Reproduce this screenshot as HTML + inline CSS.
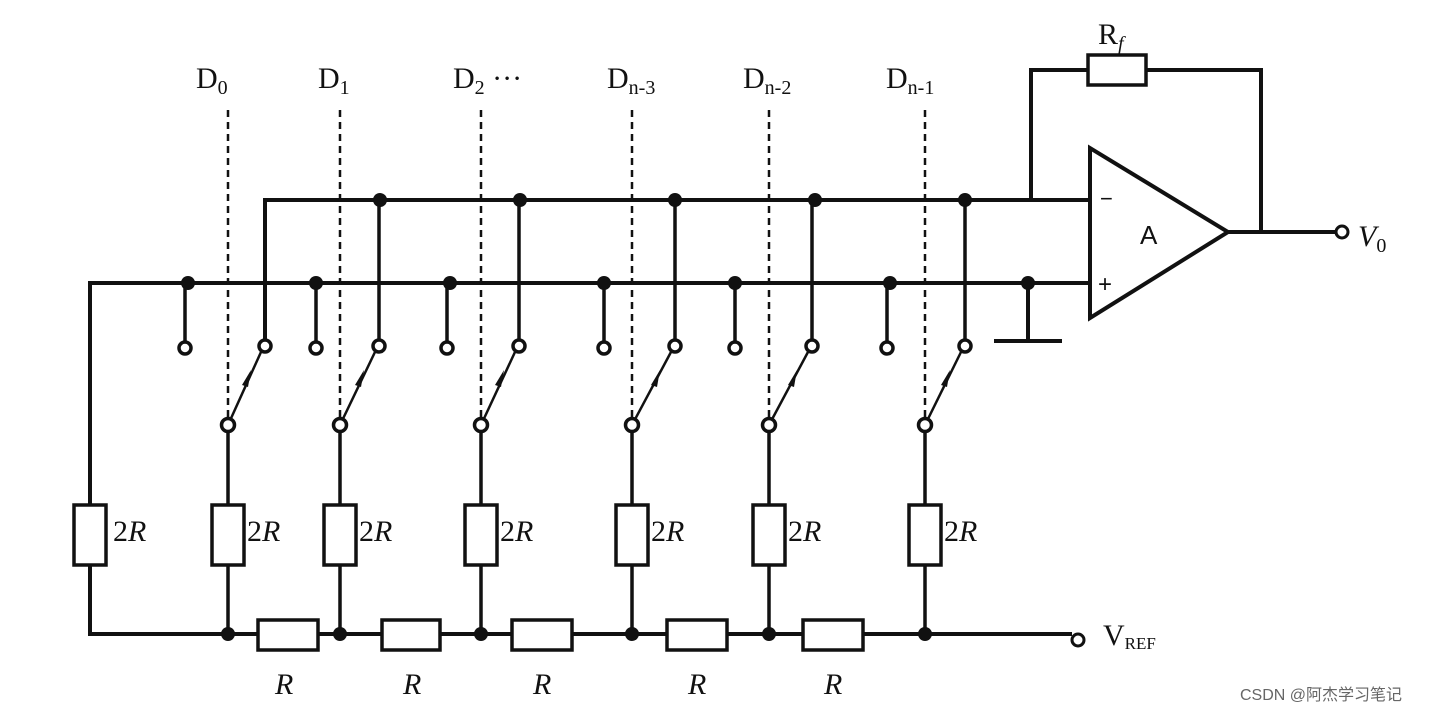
<!DOCTYPE html>
<html><head><style>body{margin:0;background:#fff}svg{display:block}</style></head><body>
<svg width="1445" height="714" viewBox="0 0 1445 714" xmlns="http://www.w3.org/2000/svg" font-family="Liberation Serif, serif">
<g stroke="#111" stroke-width="4" fill="none">
<!-- top bus -->
<polyline points="265,340 265,200 1090,200"/>
<!-- lower bus -->
<polyline points="90,505 90,283 1090,283"/>
<!-- left 2R -->
<rect x="74" y="505" width="32" height="60" stroke-width="3.5"/>
<polyline points="90,565 90,634 1072,634"/>
<!-- ground -->
<line x1="1028" y1="283" x2="1028" y2="341"/>
<line x1="994" y1="341" x2="1062" y2="341"/>
<!-- opamp -->
<polygon points="1090,148 1090,318 1228,232" fill="#fff"/>
<polyline points="1031,200 1031,70 1261,70 1261,232"/>
<line x1="1228" y1="232" x2="1336" y2="232"/>
<rect x="1088" y="55" width="58" height="30" fill="#fff" stroke-width="3.5"/>
<circle cx="1342" cy="232" r="6" stroke-width="3" fill="#fff"/>
<!-- bottom R resistors -->
<g fill="#fff" stroke-width="3.5">
<rect x="258" y="620" width="60" height="30"/>
<rect x="382" y="620" width="58" height="30"/>
<rect x="512" y="620" width="60" height="30"/>
<rect x="667" y="620" width="60" height="30"/>
<rect x="803" y="620" width="60" height="30"/>
</g>
<circle cx="1078" cy="640" r="6" stroke-width="3" fill="#fff"/>
</g>
<line x1="1072" y1="634" x2="1072" y2="640" stroke="#fff" stroke-width="0"/>

<!-- columns -->
<g stroke="#111" stroke-width="3.5" fill="none">
<!-- pivot x, left contact, right contact -->
<!-- col0 -->
<line x1="228" y1="110" x2="228" y2="418" stroke-dasharray="7,5" stroke-width="2.5"/>
<line x1="185" y1="283" x2="185" y2="342"/><circle cx="185" cy="348" r="6" fill="#fff"/>
<circle cx="265" cy="346" r="6" fill="#fff"/>
<line x1="228" y1="425" x2="261" y2="352" stroke-width="2.5"/>
<line x1="228" y1="431" x2="228" y2="505"/><rect x="212" y="505" width="32" height="60" fill="#fff"/>
<line x1="228" y1="565" x2="228" y2="634"/>
<circle cx="228" cy="425" r="6.5" fill="#fff"/>
<!-- col1 -->
<line x1="340" y1="110" x2="340" y2="418" stroke-dasharray="7,5" stroke-width="2.5"/>
<line x1="316" y1="283" x2="316" y2="342"/><circle cx="316" cy="348" r="6" fill="#fff"/>
<line x1="379" y1="200" x2="379" y2="340"/><circle cx="379" cy="346" r="6" fill="#fff"/>
<line x1="340" y1="425" x2="375" y2="352" stroke-width="2.5"/>
<line x1="340" y1="431" x2="340" y2="505"/><rect x="324" y="505" width="32" height="60" fill="#fff"/>
<line x1="340" y1="565" x2="340" y2="634"/>
<circle cx="340" cy="425" r="6.5" fill="#fff"/>
<!-- col2 -->
<line x1="481" y1="110" x2="481" y2="418" stroke-dasharray="7,5" stroke-width="2.5"/>
<line x1="447" y1="283" x2="447" y2="342"/><circle cx="447" cy="348" r="6" fill="#fff"/>
<line x1="519" y1="200" x2="519" y2="340"/><circle cx="519" cy="346" r="6" fill="#fff"/>
<line x1="481" y1="425" x2="515" y2="352" stroke-width="2.5"/>
<line x1="481" y1="431" x2="481" y2="505"/><rect x="465" y="505" width="32" height="60" fill="#fff"/>
<line x1="481" y1="565" x2="481" y2="634"/>
<circle cx="481" cy="425" r="6.5" fill="#fff"/>
<!-- col3 -->
<line x1="632" y1="110" x2="632" y2="418" stroke-dasharray="7,5" stroke-width="2.5"/>
<line x1="604" y1="283" x2="604" y2="342"/><circle cx="604" cy="348" r="6" fill="#fff"/>
<line x1="675" y1="200" x2="675" y2="340"/><circle cx="675" cy="346" r="6" fill="#fff"/>
<line x1="632" y1="425" x2="671" y2="352" stroke-width="2.5"/>
<line x1="632" y1="431" x2="632" y2="505"/><rect x="616" y="505" width="32" height="60" fill="#fff"/>
<line x1="632" y1="565" x2="632" y2="634"/>
<circle cx="632" cy="425" r="6.5" fill="#fff"/>
<!-- col4 -->
<line x1="769" y1="110" x2="769" y2="418" stroke-dasharray="7,5" stroke-width="2.5"/>
<line x1="735" y1="283" x2="735" y2="342"/><circle cx="735" cy="348" r="6" fill="#fff"/>
<line x1="812" y1="200" x2="812" y2="340"/><circle cx="812" cy="346" r="6" fill="#fff"/>
<line x1="769" y1="425" x2="808" y2="352" stroke-width="2.5"/>
<line x1="769" y1="431" x2="769" y2="505"/><rect x="753" y="505" width="32" height="60" fill="#fff"/>
<line x1="769" y1="565" x2="769" y2="634"/>
<circle cx="769" cy="425" r="6.5" fill="#fff"/>
<!-- col5 -->
<line x1="925" y1="110" x2="925" y2="418" stroke-dasharray="7,5" stroke-width="2.5"/>
<line x1="887" y1="283" x2="887" y2="342"/><circle cx="887" cy="348" r="6" fill="#fff"/>
<line x1="965" y1="200" x2="965" y2="340"/><circle cx="965" cy="346" r="6" fill="#fff"/>
<line x1="925" y1="425" x2="961" y2="352" stroke-width="2.5"/>
<line x1="925" y1="431" x2="925" y2="505"/><rect x="909" y="505" width="32" height="60" fill="#fff"/>
<line x1="925" y1="565" x2="925" y2="634"/>
<circle cx="925" cy="425" r="6.5" fill="#fff"/>
</g>
<!-- arrowheads on switch arms -->
<g fill="#111">
<polygon points="251,370 242,385 248,387"/>
<polygon points="364,370 355,385 361,387"/>
<polygon points="504,370 495,385 501,387"/>
<polygon points="660,370 651,385 657,387"/>
<polygon points="797,370 788,385 794,387"/>
<polygon points="950,370 941,385 947,387"/>
</g>
<!-- junction dots -->
<g fill="#111">
<circle cx="380" cy="200" r="7"/><circle cx="520" cy="200" r="7"/><circle cx="675" cy="200" r="7"/><circle cx="815" cy="200" r="7"/><circle cx="965" cy="200" r="7"/>
<circle cx="188" cy="283" r="7"/><circle cx="316" cy="283" r="7"/><circle cx="450" cy="283" r="7"/><circle cx="604" cy="283" r="7"/><circle cx="735" cy="283" r="7"/><circle cx="890" cy="283" r="7"/><circle cx="1028" cy="283" r="7"/>
<circle cx="228" cy="634" r="7"/><circle cx="340" cy="634" r="7"/><circle cx="481" cy="634" r="7"/><circle cx="632" cy="634" r="7"/><circle cx="769" cy="634" r="7"/><circle cx="925" cy="634" r="7"/>
</g>
<!-- labels -->
<g fill="#111" font-size="30">
<text x="196" y="88">D<tspan font-size="20" dy="6">0</tspan></text>
<text x="318" y="88">D<tspan font-size="20" dy="6">1</tspan></text>
<text x="453" y="88">D<tspan font-size="20" dy="6">2</tspan><tspan dy="-6"> ···</tspan></text>
<text x="607" y="88">D<tspan font-size="20" dy="6">n-3</tspan></text>
<text x="743" y="88">D<tspan font-size="20" dy="6">n-2</tspan></text>
<text x="886" y="88">D<tspan font-size="20" dy="6">n-1</tspan></text>
<text x="1098" y="44">R<tspan font-size="20" dy="6" font-style="italic">f</tspan></text>
<text x="1140" y="244" font-family="Liberation Sans, sans-serif" font-size="26">A</text>
<text x="1100" y="206" font-family="Liberation Sans, sans-serif" font-size="22">−</text>
<text x="1098" y="292" font-family="Liberation Sans, sans-serif" font-size="24">+</text>
<text x="1358" y="246" font-style="italic">V<tspan font-size="20" dy="6" font-style="normal">0</tspan></text>
<text x="1103" y="645">V<tspan font-size="17" dy="4">REF</tspan></text>
</g>
<g fill="#111" font-size="30" font-family="Liberation Serif, serif">
<text x="113" y="541">2<tspan font-style="italic">R</tspan></text>
<text x="247" y="541">2<tspan font-style="italic">R</tspan></text>
<text x="359" y="541">2<tspan font-style="italic">R</tspan></text>
<text x="500" y="541">2<tspan font-style="italic">R</tspan></text>
<text x="651" y="541">2<tspan font-style="italic">R</tspan></text>
<text x="788" y="541">2<tspan font-style="italic">R</tspan></text>
<text x="944" y="541">2<tspan font-style="italic">R</tspan></text>
<g font-style="italic">
<text x="275" y="694">R</text><text x="403" y="694">R</text><text x="533" y="694">R</text><text x="688" y="694">R</text><text x="824" y="694">R</text>
</g>
</g>
<text x="1240" y="700" font-family="Liberation Sans, 'Noto Sans CJK SC', sans-serif" font-size="16" fill="#666">CSDN @阿杰学习笔记</text>
</svg>
</body></html>
